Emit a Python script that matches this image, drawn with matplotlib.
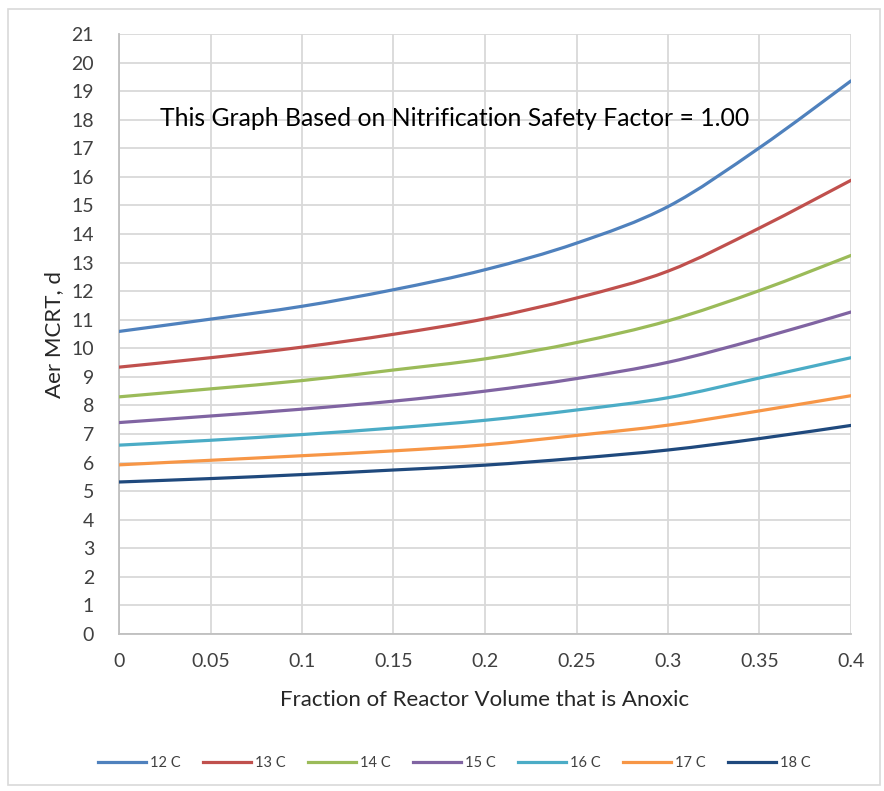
import matplotlib
matplotlib.use("Agg")
import numpy as np
from matplotlib import pyplot as plt
from matplotlib.path import Path
from matplotlib.patches import PathPatch, Rectangle
from matplotlib.lines import Line2D

plt.rcParams['font.family'] = ['Lato', 'DejaVu Sans']

# fraction of reactor volume that is anoxic
x_frac = [0, 0.05, 0.1, 0.15, 0.2, 0.25, 0.3, 0.35, 0.4]

# aerobic MCRT (d)
t12 = [10.59, 11.02, 11.47, 12.05, 12.75, 13.68, 14.96, 17.02, 19.36]
t13 = [9.34, 9.67, 10.04, 10.49, 11.03, 11.76, 12.70, 14.21, 15.88]
t14 = [8.30, 8.58, 8.87, 9.24, 9.63, 10.20, 10.96, 12.02, 13.25]
t15 = [7.40, 7.63, 7.87, 8.15, 8.50, 8.94, 9.51, 10.34, 11.27]
t16 = [6.61, 6.78, 6.98, 7.21, 7.48, 7.84, 8.27, 8.96, 9.67]
t17 = [5.92, 6.08, 6.24, 6.41, 6.62, 6.95, 7.31, 7.81, 8.34]
t18 = [5.32, 5.44, 5.58, 5.74, 5.91, 6.15, 6.44, 6.84, 7.30]

labels = ['12 C', '13 C', '14 C', '15 C', '16 C', '17 C', '18 C']
series = [t12, t13, t14, t15, t16, t17, t18]
colors = ['#4F81BD', '#C0504D', '#9BBB59', '#8064A2', '#4BACC6', '#F79646', '#1F497D']


def smooth_path(xs, ys):
    # excel-like smoothed line: bezier segments through the points
    p = np.column_stack([xs, ys]).astype(float)
    n = len(p)
    verts = [p[0]]
    codes = [Path.MOVETO]
    for i in range(n - 1):
        p0 = p[i - 1] if i > 0 else p[i]
        p3 = p[i + 2] if i + 2 < n else p[i + 1]
        c1 = p[i] + (p[i + 1] - p0) / 6.0
        c2 = p[i + 1] - (p3 - p[i]) / 6.0
        verts += [c1, c2, p[i + 1]]
        codes += [Path.CURVE4] * 3
    return Path(verts, codes)


fig = plt.figure(figsize=(8.84, 7.91), dpi=100)
ax = fig.add_axes([119 / 884, 1 - 634 / 791, (851 - 119) / 884, (634 - 34) / 791])

# chart border
fig.patches.append(Rectangle((8 / 884, 6 / 791), 872 / 884, 776 / 791, transform=fig.transFigure,
                             fill=False, edgecolor='#d9d9d9', linewidth=1.2))

handles = []
for ys, lab, c in zip(series, labels, colors):
    ax.add_patch(PathPatch(smooth_path(x_frac, ys), fill=False, edgecolor=c, linewidth=2.3,
                           capstyle='round', zorder=3))
    handles.append(Line2D([], [], color=c, linewidth=2.3, label=lab))

ax.set_xlim(0, 0.4)
ax.set_ylim(0, 21)
ax.set_xticks(x_frac)
ax.set_xticklabels(['0', '0.05', '0.1', '0.15', '0.2', '0.25', '0.3', '0.35', '0.4'])
ax.set_yticks(range(0, 22))
ax.grid(True, color='#d9d9d9', linewidth=1.3)
ax.set_axisbelow(True)
for s in ['top', 'right']:
    ax.spines[s].set_visible(False)
for s in ['left', 'bottom']:
    ax.spines[s].set_color('#bfbfbf')
    ax.spines[s].set_linewidth(1.3)
ax.tick_params(length=0, labelsize=14, colors='#404040')
ax.tick_params(axis='x', pad=14)
ax.tick_params(axis='y', pad=18)

ax.set_xlabel('Fraction of Reactor Volume that is Anoxic', fontsize=16, color='#262626', labelpad=14)
ax.set_ylabel('Aer MCRT, d', fontsize=16, color='#262626', labelpad=5)

ax.text(0.0225, 18.05, 'This Graph Based on Nitrification Safety Factor = 1.00', fontsize=17.8,
        color='black', va='center', ha='left')

fig.legend(handles=handles, loc='center', bbox_to_anchor=(0.514, 1 - 763 / 791), ncol=7,
           frameon=False, fontsize=10.5, handlelength=3.3, handletextpad=0.3, columnspacing=1.5,
           labelcolor='#404040')

fig.savefig('out.png', dpi=100)
